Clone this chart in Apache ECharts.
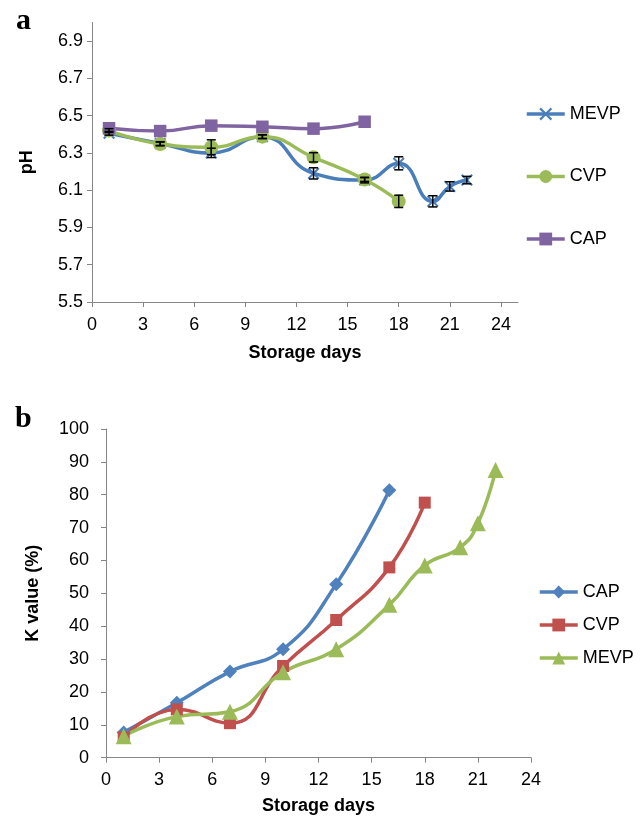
<!DOCTYPE html>
<html><head><meta charset="utf-8">
<script src="https://cdn.jsdelivr.net/npm/echarts@6/dist/echarts.min.js"></script>
<style>
html,body{margin:0;padding:0;background:#fff;}
#a{position:absolute;left:0;top:0;width:644px;height:380px;}
#b{position:absolute;left:0;top:380px;width:644px;height:440px;}
</style>
</head><body><div id="a"></div><div id="b"></div>
<script>
// ---- Panel a: pH ----
const phDaysMEVP = [1, 4, 7, 10, 13, 16, 18, 20, 21, 22];
const phMEVP     = [6.405, 6.35, 6.30, 6.387, 6.19, 6.154, 6.244, 6.04, 6.12, 6.154];
const phErrMEVP  = [0.01, 0.01, 0.025, 0.01, 0.03, 0.015, 0.035, 0.03, 0.025, 0.02];
const phDaysCVP  = [1, 4, 7, 10, 13, 16, 18];
const phCVP      = [6.42, 6.348, 6.33, 6.387, 6.276, 6.157, 6.04];
const phErrCVP   = [0.01, 0.01, 0.04, 0.01, 0.025, 0.01, 0.033];
const phDaysCAP  = [1, 4, 7, 10, 13, 16];
const phCAP      = [6.432, 6.417, 6.446, 6.44, 6.43, 6.467];
const phTicks    = [5.5, 5.7, 5.9, 6.1, 6.3, 6.5, 6.7, 6.9];
const dayTicks   = [0, 3, 6, 9, 12, 15, 18, 21, 24];

// ---- Panel b: K value ----
const kDaysCAP  = [1, 4, 7, 10, 13, 16];
const kCAP      = [7.7, 16.7, 26.2, 33.0, 52.8, 81.4];
const kDaysCVP  = [1, 4, 7, 10, 13, 16, 18];
const kCVP      = [6.2, 14.7, 10.5, 27.9, 41.9, 57.9, 77.6];
const kDaysMEVP = [1, 4, 7, 10, 13, 16, 18, 20, 21, 22];
const kMEVP     = [6.5, 12.5, 14.0, 26.0, 33.0, 46.5, 58.5, 64.0, 71.3, 87.5];

const FONT = 'Liberation Sans, Arial, sans-serif';
const AXC = '#868686';
const FS = 18;
const X_SYMBOL = 'path://M0,1.2L1.2,0L5,3.8L8.8,0L10,1.2L6.2,5L10,8.8L8.8,10L5,6.2L1.2,10L0,8.8L3.8,5Z';

function pairs(xs, ys) { return xs.map((x, i) => [x, ys[i]]); }
function errs(xs, ys, es) { return xs.map((x, i) => [x, ys[i] - es[i], ys[i] + es[i]]); }

function errRender(params, api) {
  const x = api.value(0), lo = api.value(1), hi = api.value(2);
  const p1 = api.coord([x, lo]), p2 = api.coord([x, hi]);
  const w = 4.5;
  const st = { stroke: '#000', lineWidth: 1.5 };
  return { type: 'group', children: [
    { type: 'line', shape: { x1: p1[0], y1: p1[1], x2: p2[0], y2: p2[1] }, style: st },
    { type: 'line', shape: { x1: p1[0] - w, y1: p1[1], x2: p1[0] + w, y2: p1[1] }, style: st },
    { type: 'line', shape: { x1: p2[0] - w, y1: p2[1], x2: p2[0] + w, y2: p2[1] }, style: st }
  ]};
}

function axisX(max, gap, margin) {
  return {
    type: 'value', min: 0, max: max, interval: 3,
    name: 'Storage days', nameLocation: 'middle', nameGap: gap,
    nameTextStyle: { fontFamily: FONT, fontWeight: 'bold', fontSize: FS, color: '#000' },
    axisLine: { show: true, lineStyle: { color: AXC, width: 1 } },
    axisTick: { show: true, length: 5, lineStyle: { color: AXC }, customValues: dayTicks },
    axisLabel: { fontFamily: FONT, fontSize: FS, color: '#000', margin: margin, customValues: dayTicks },
    splitLine: { show: false }
  };
}

const lineBase = { type: 'line', smooth: 0.5, lineStyle: { width: 3.5 }, showSymbol: true };
const legendBase = {
  orient: 'vertical', padding: 0, itemHeight: 16,
  lineStyle: { width: 3.5 },
  textStyle: { fontFamily: FONT, fontSize: FS, color: '#000' }
};
const LETTER_FONT = 'bold 30px Liberation Serif, Times New Roman, serif';

// ===== Chart a =====
const ca = echarts.init(document.getElementById('a'), null, { renderer: 'canvas' });
ca.setOption({
  animation: false,
  graphic: [{ type: 'text', left: 16, top: 6, style: { text: 'a', font: LETTER_FONT, fill: '#000' } }],
  grid: { left: 92, right: 126, top: 22.4, bottom: 78 },
  legend: Object.assign({}, legendBase, {
    left: 525, top: 105, itemWidth: 38, itemGap: 44.5,
    data: ['MEVP', 'CVP', 'CAP']
  }),
  xAxis: axisX(25, 42, 14),
  yAxis: {
    type: 'value', min: 5.5, max: 7.0, interval: 0.2,
    name: 'pH', nameLocation: 'middle', nameGap: 56,
    nameTextStyle: { fontFamily: FONT, fontWeight: 'bold', fontSize: FS, color: '#000' },
    axisLine: { show: true, lineStyle: { color: AXC, width: 1 } },
    axisTick: { show: true, length: 5, lineStyle: { color: AXC }, customValues: phTicks },
    axisLabel: { fontFamily: FONT, fontSize: FS, color: '#000', margin: 9, customValues: phTicks,
      formatter: v => v.toFixed(1) },
    splitLine: { show: false }
  },
  series: [
    Object.assign({}, lineBase, { name: 'MEVP', data: pairs(phDaysMEVP, phMEVP), color: '#4A7EBB',
      symbol: X_SYMBOL, symbolSize: 12 }),
    Object.assign({}, lineBase, { name: 'CVP', data: pairs(phDaysCVP, phCVP), color: '#9BBB59',
      symbol: 'circle', symbolSize: 14 }),
    Object.assign({}, lineBase, { name: 'CAP', data: pairs(phDaysCAP, phCAP), color: '#8064A2',
      symbol: 'rect', symbolSize: 12.5 }),
    { type: 'custom', name: 'errMEVP', renderItem: errRender, data: errs(phDaysMEVP, phMEVP, phErrMEVP), z: 5 },
    { type: 'custom', name: 'errCVP', renderItem: errRender, data: errs(phDaysCVP, phCVP, phErrCVP), z: 5 }
  ]
});

// ===== Chart b =====
const cb = echarts.init(document.getElementById('b'), null, { renderer: 'canvas' });
cb.setOption({
  animation: false,
  graphic: [{ type: 'text', left: 15, top: 24, style: { text: 'b', font: LETTER_FONT, fill: '#000' } }],
  grid: { left: 106, right: 113, top: 49, bottom: 62.3 },
  legend: Object.assign({}, legendBase, {
    left: 538, top: 203, itemWidth: 38, itemGap: 15,
    data: ['CAP', 'CVP', 'MEVP']
  }),
  xAxis: axisX(24, 39, 13),
  yAxis: {
    type: 'value', min: 0, max: 100, interval: 10,
    name: 'K value (%)', nameLocation: 'middle', nameGap: 64,
    nameTextStyle: { fontFamily: FONT, fontWeight: 'bold', fontSize: FS, color: '#000' },
    axisLine: { show: true, lineStyle: { color: AXC, width: 1 } },
    axisTick: { show: true, length: 5, lineStyle: { color: AXC } },
    axisLabel: { fontFamily: FONT, fontSize: FS, color: '#000', margin: 17 },
    splitLine: { show: false }
  },
  series: [
    Object.assign({}, lineBase, { name: 'CAP', data: pairs(kDaysCAP, kCAP), color: '#4F81BD',
      symbol: 'diamond', symbolSize: 14 }),
    Object.assign({}, lineBase, { name: 'CVP', data: pairs(kDaysCVP, kCVP), color: '#C0504D',
      symbol: 'rect', symbolSize: 12 }),
    Object.assign({}, lineBase, { name: 'MEVP', data: pairs(kDaysMEVP, kMEVP), color: '#9BBB59',
      symbol: 'triangle', symbolSize: 16 })
  ]
});
</script>
</body></html>
